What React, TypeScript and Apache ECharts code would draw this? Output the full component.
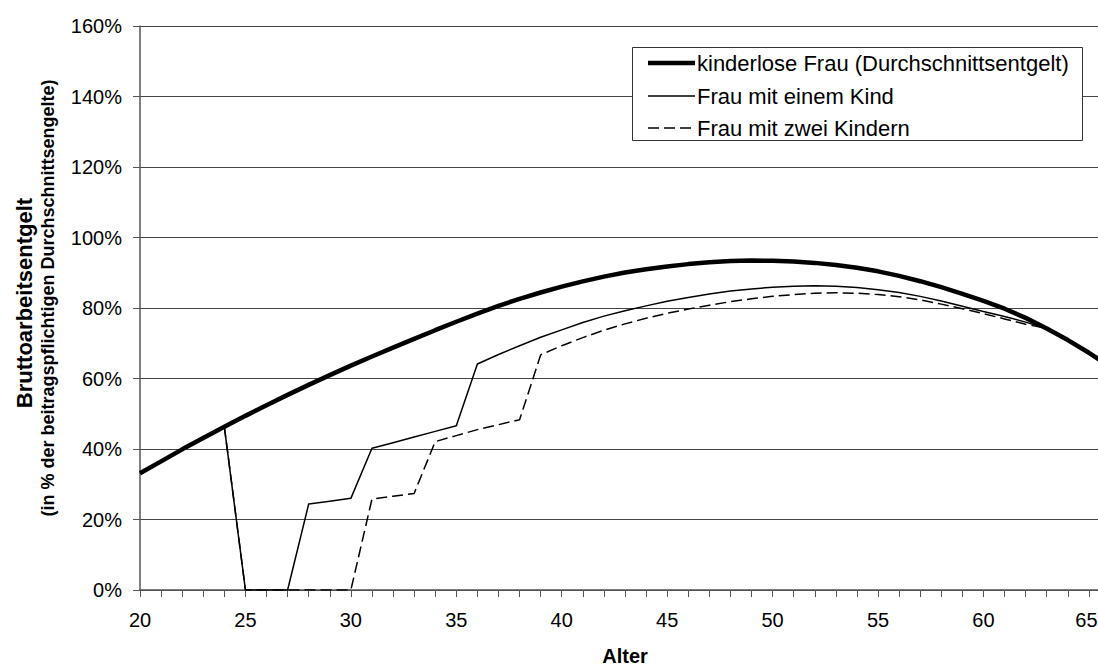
import React, { useEffect, useRef } from "react";
import * as echarts from "echarts";

const ages: string[] = [];
for (let a = 20; a <= 66; a++) ages.push(String(a));

const seriesNames = [
  "kinderlose Frau (Durchschnittsentgelt)",
  "Frau mit einem Kind",
  "Frau mit zwei Kindern",
];

// Bruttoarbeitsentgelt in % (ages 20..66)
const kinderlos = [
  33.1, 36.5, 39.9, 43.1, 46.3, 49.4, 52.4, 55.35, 58.2, 60.95,
  63.65, 66.25, 68.75, 71.25, 73.7, 76.1, 78.4, 80.6, 82.6, 84.4,
  86.05, 87.55, 88.9, 90.05, 91.0, 91.8, 92.45, 92.95, 93.3, 93.45,
  93.4, 93.2, 92.8, 92.2, 91.4, 90.4, 89.1, 87.6, 85.9, 84.0,
  82.0, 79.8, 77.2, 74.2, 70.9, 67.3, 63.4,
];

const einKind = [
  33.1, 36.5, 39.9, 43.1, 46.3, 0, 0, 0, 24.4, 25.2,
  26.0, 40.2, 41.8, 43.4, 45.0, 46.6, 64.1, 66.8, 69.3, 71.7,
  73.8, 75.9, 77.7, 79.2, 80.6, 81.9, 83.0, 84.0, 84.8, 85.4,
  85.9, 86.2, 86.3, 86.2, 85.8, 85.2, 84.4, 83.3, 82.0, 80.5,
  79.0, 77.6, 76.0, 74.2, 70.9, 67.3, 63.4,
];

const zweiKinder = [
  33.1, 36.5, 39.9, 43.1, 46.3, 0, 0, 0, 0, 0,
  0, 25.8, 26.6, 27.4, 42.1, 43.8, 45.5, 46.9, 48.3, 66.7,
  69.3, 71.6, 73.7, 75.5, 77.1, 78.5, 79.7, 80.8, 81.8, 82.6,
  83.3, 83.8, 84.2, 84.3, 84.2, 83.8, 83.2, 82.3, 81.1, 79.8,
  78.4, 76.9, 75.4, 74.2, 70.9, 67.3, 63.4,
];

const FONT = "'Liberation Sans', Arial, Helvetica, sans-serif";

const legendRows = [
  { name: seriesNames[0], y: 63, width: 4.5, dash: null as number[] | null },
  { name: seriesNames[1], y: 96, width: 1.5, dash: null as number[] | null },
  { name: seriesNames[2], y: 128, width: 1.5, dash: [11, 5] },
];

export default function App() {
  const ref = useRef<HTMLDivElement>(null);

  useEffect(() => {
    document.body.style.margin = "0";
    if (!ref.current) return;
    const chart = echarts.init(ref.current, undefined, { renderer: "svg" });

    const legendGraphics: any[] = [
      {
        type: "rect",
        z: 100,
        shape: { x: 632.5, y: 47.5, width: 450, height: 93 },
        style: { fill: "#ffffff", stroke: "#333333", lineWidth: 1 },
      },
    ];
    legendRows.forEach((r) => {
      legendGraphics.push({
        type: "line",
        z: 101,
        shape: { x1: 648, y1: r.y, x2: 695, y2: r.y },
        style: {
          stroke: "#000",
          lineWidth: r.width,
          lineDash: r.dash || undefined,
        },
      });
      legendGraphics.push({
        type: "text",
        z: 101,
        x: 697,
        y: r.y,
        style: {
          text: r.name,
          fontFamily: FONT,
          fontSize: 22,
          fill: "#000",
          textAlign: "left",
          textVerticalAlign: "middle",
        },
      });
    });

    chart.setOption({
      animation: false,
      backgroundColor: "#ffffff",
      textStyle: { fontFamily: FONT },
      grid: {
        left: 140,
        right: -12,
        top: 26,
        bottom: 76,
        containLabel: false,
        outerBoundsMode: "none",
      },
      xAxis: {
        type: "category",
        data: ages,
        boundaryGap: false,
        name: "Alter",
        nameLocation: "middle",
        nameGap: 56,
        nameTextStyle: { fontFamily: FONT, fontSize: 20, fontWeight: "bold", color: "#000" },
        axisLine: { show: true, lineStyle: { color: "#555", width: 1.5 } },
        axisTick: { show: true, interval: 0, length: 7, lineStyle: { color: "#555", width: 1 } },
        axisLabel: {
          interval: (idx: number) => idx % 5 === 0,
          formatter: (v: string) => (v === "65" ? "{e|65}" : v),
          rich: {
            e: { fontSize: 20, fontFamily: FONT, color: "#000", padding: [0, 5, 0, 0] },
          },
          margin: 20,
          fontSize: 20,
          color: "#000",
          fontFamily: FONT,
          hideOverlap: false,
        },
        splitLine: { show: false },
      },
      yAxis: {
        type: "value",
        min: 0,
        max: 160,
        interval: 20,
        axisLine: { show: true, lineStyle: { color: "#555", width: 1.5 } },
        axisTick: { show: true, length: 7, lineStyle: { color: "#555", width: 1 } },
        axisLabel: {
          formatter: "{value}%",
          margin: 18,
          fontSize: 20,
          color: "#000",
          fontFamily: FONT,
        },
        splitLine: { show: true, lineStyle: { color: "#444", width: 1 } },
      },
      graphic: [
        {
          type: "text",
          x: 24,
          y: 303,
          rotation: Math.PI / 2,
          style: {
            text: "Bruttoarbeitsentgelt",
            fontFamily: FONT,
            fontSize: 22,
            fontWeight: "bold",
            fill: "#000",
            textAlign: "center",
            textVerticalAlign: "middle",
          },
        },
        {
          type: "text",
          x: 48,
          y: 298,
          rotation: Math.PI / 2,
          style: {
            text: "(in % der beitragspflichtigen Durchschnittsengelte)",
            fontFamily: FONT,
            fontSize: 18,
            fontWeight: "bold",
            fill: "#000",
            textAlign: "center",
            textVerticalAlign: "middle",
          },
        },
        ...legendGraphics,
      ],
      series: [
        {
          name: seriesNames[2],
          type: "line",
          data: zweiKinder,
          symbol: "none",
          z: 2,
          lineStyle: { color: "#000", width: 1.5, type: [11, 5] },
          itemStyle: { color: "#000" },
        },
        {
          name: seriesNames[1],
          type: "line",
          data: einKind,
          symbol: "none",
          z: 3,
          lineStyle: { color: "#000", width: 1.5, type: "solid" },
          itemStyle: { color: "#000" },
        },
        {
          name: seriesNames[0],
          type: "line",
          data: kinderlos,
          symbol: "none",
          z: 4,
          lineStyle: { color: "#000", width: 4.5, type: "solid" },
          itemStyle: { color: "#000" },
        },
      ],
    });
    return () => chart.dispose();
  }, []);

  return (
    <div
      ref={ref}
      style={{ position: "fixed", left: 0, top: 0, width: 1098, height: 666 }}
    />
  );
}
